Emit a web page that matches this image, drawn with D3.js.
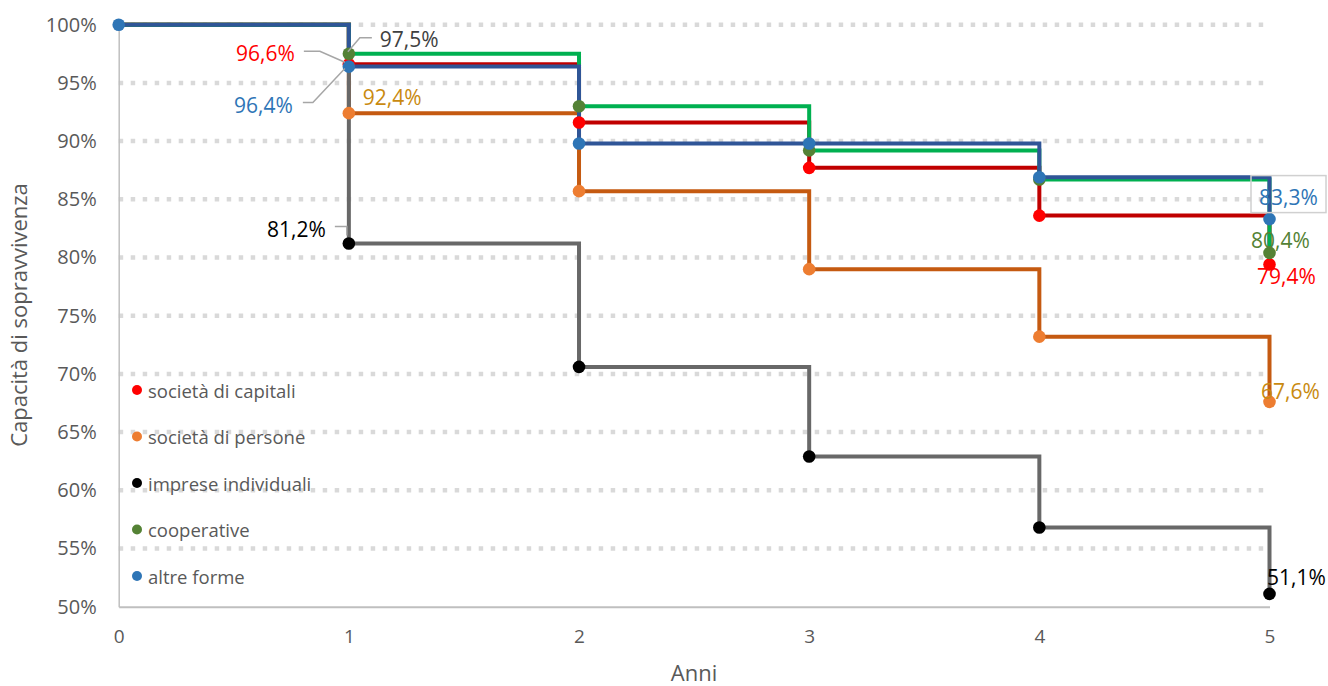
<!DOCTYPE html>
<html>
<head>
<meta charset="utf-8">
<script src="https://cdn.jsdelivr.net/npm/d3@7"></script>
<style>
  html, body { margin: 0; padding: 0; background: #fff; }
  svg { display: block; font-family: "Open Sans", "Noto Sans", sans-serif; }
</style>
</head>
<body>
<svg id="chart" width="1328" height="686"></svg>
<script>
// ---- data ----
const years = [0, 1, 2, 3, 4, 5];
const seriesNames = ["società di capitali", "società di persone", "imprese individuali", "cooperative", "altre forme"];
const capitali    = [100, 96.6, 91.6, 87.7, 83.6, 79.4];
const persone     = [100, 92.4, 85.7, 79.0, 73.2, 67.6];
const individuali = [100, 81.2, 70.6, 62.9, 56.8, 51.1];
const cooperative = [100, 97.5, 93.0, 89.2, 86.7, 80.4];
const altre       = [100, 96.4, 89.8, 89.8, 86.9, 83.3];
const yTicks = [50, 55, 60, 65, 70, 75, 80, 85, 90, 95, 100];
const xTicks = [0, 1, 2, 3, 4, 5];
const xTitle = "Anni";
const yTitle = "Capacità di sopravvivenza";

// ---- styles ----
const lineColors = ["#C00000", "#C55A11", "#686868", "#00B050", "#2F5597"];
const dotColors  = ["#FF0000", "#ED7D31", "#000000", "#548235", "#2E75B6"];
const labelColors = ["#FF0000", "#C98A10", "#000000", "#548235", "#2E75B6"];
const allValues = [capitali, persone, individuali, cooperative, altre];

const svg = d3.select("#chart");
const x = d3.scaleLinear().domain([0, 5]).range([118.7, 1269.5]);
const y = d3.scaleLinear().domain([50, 100]).range([606.7, 24.7]);
const fmt = v => d3.format(".1f")(v).replace(".", ",") + "%";

// gridlines
svg.append("g").selectAll("line").data(yTicks.filter(t => t > 50)).join("line")
  .attr("x1", x(0)).attr("x2", x(5))
  .attr("y1", d => y(d)).attr("y2", d => y(d))
  .attr("stroke", "#D9D9D9").attr("stroke-width", 4.5)
  .attr("stroke-dasharray", "4.5 7.5");

// axes
const yAxis = d3.axisLeft(y).tickValues(yTicks).tickSize(0).tickPadding(22).tickFormat(d => d + "%");
const gy = svg.append("g").attr("transform", `translate(${x(0)},0)`).call(yAxis);
gy.select(".domain").attr("stroke", "#BFBFBF").attr("stroke-width", 1.5);
gy.selectAll("text").attr("font-size", 20).attr("fill", "#595959").attr("font-family", "Open Sans");

const xAxis = d3.axisBottom(x).tickValues(xTicks).tickSize(0).tickPadding(23).tickFormat(d3.format("d"));
const gx = svg.append("g").attr("transform", `translate(0,${y(50)})`).call(xAxis);
gx.select(".domain").attr("stroke", "#BFBFBF").attr("stroke-width", 2);
gx.selectAll("text").attr("font-size", 19).attr("fill", "#595959").attr("font-family", "Open Sans");

// axis titles
svg.append("text").attr("x", 694).attr("y", 681).attr("text-anchor", "middle")
  .attr("font-size", 22).attr("fill", "#595959").text(xTitle);
svg.append("text").attr("transform", "translate(27,315) rotate(-90)").attr("text-anchor", "middle")
  .attr("font-size", 22).attr("fill", "#595959").text(yTitle);

// lines
const line = d3.line().x((d, i) => x(years[i])).y(d => y(d)).curve(d3.curveStepAfter);
svg.append("g").selectAll("path").data(allValues).join("path")
  .attr("d", d => line(d)).attr("fill", "none")
  .attr("stroke", (d, i) => lineColors[i]).attr("stroke-width", 4)
  .attr("stroke-linejoin", "miter");

// dots (the shared starting point is shown once, in the last series' colour)
allValues.forEach((vals, si) => {
  svg.append("g").selectAll("circle").data(vals.map((v, i) => ({ v, i })).filter(d => d.i > 0 || si === 4)).join("circle")
    .attr("cx", d => x(years[d.i])).attr("cy", d => y(d.v)).attr("r", 6.3)
    .attr("fill", dotColors[si]);
});

// data labels: [series, yearIndex, dx, dy, anchor, leader]
const labelLayout = [
  [0, 1, -54, -11, "end",    [[-45, -13], [-29, -13], [-4, -2]]],
  [4, 1, -56,  38, "end",    [[-46, 36], [-36, 36], [-4, 2]]],
  [3, 1,  31, -15, "start",  [[23, -16], [11, -16], [-1, -2]]],
  [1, 1,  14, -16, "start",  null],
  [2, 1, -23, -15, "end",    [[-14, -17], [-2, -17], [-2, -8]]],
  [4, 5,  19, -22, "middle", null],
  [3, 5,  11, -13, "middle", null],
  [0, 5,  17,  12, "middle", null],
  [1, 5,  21, -11, "middle", null],
  [2, 5,  27, -17, "middle", null]
];
const gl = svg.append("g");
labelLayout.forEach(([si, yi, dx, dy, anchor, leader]) => {
  const v = allValues[si][yi];
  const px = x(years[yi]), py = y(v);
  if (leader) {
    gl.append("path")
      .attr("d", d3.line()(leader.map(p => [px + p[0], py + p[1]])))
      .attr("fill", "none").attr("stroke", "#A6A6A6").attr("stroke-width", 1.5);
  }
  if (si === 4 && yi === 5) {
    gl.append("rect").attr("x", px - 18.5).attr("y", py - 43.5).attr("width", 75).attr("height", 37)
      .attr("fill", "none").attr("stroke", "#D0D0D0").attr("stroke-width", 1.5);
  }
  const col = (si === 3 && yi === 1) ? "#404040" : labelColors[si];
  gl.append("text").attr("x", px + dx).attr("y", py + dy)
    .attr("text-anchor", anchor).attr("dominant-baseline", "central")
    .attr("font-size", 21).attr("fill", col).text(fmt(v));
});

// legend
const lg = svg.append("g").attr("transform", "translate(137,390)");
const items = lg.selectAll("g").data(seriesNames).join("g")
  .attr("transform", (d, i) => `translate(0,${i * 46.5})`);
items.append("circle").attr("r", 5).attr("fill", (d, i) => dotColors[i]);
items.append("text").attr("x", 11).attr("dominant-baseline", "central")
  .attr("font-size", 18.5).attr("fill", "#595959").text(d => d);
</script>
</body>
</html>
